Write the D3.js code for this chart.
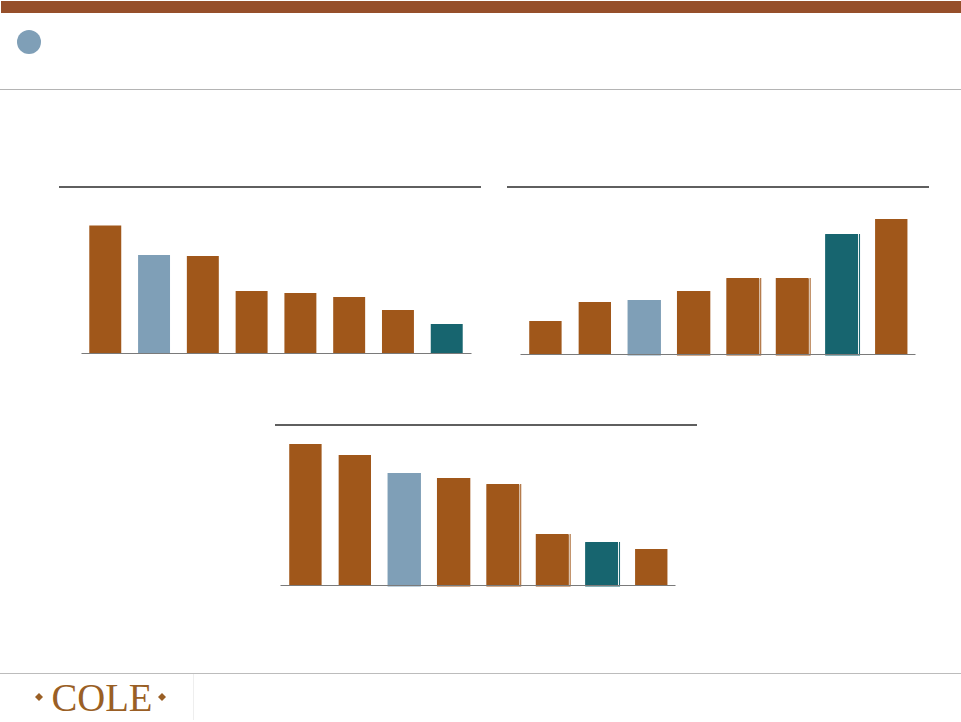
<!DOCTYPE html>
<html><head><meta charset="utf-8">
<script src="https://cdnjs.cloudflare.com/ajax/libs/d3/7.8.5/d3.min.js"></script>
<style>html,body{margin:0;padding:0;background:#fff}svg{display:block}</style>
</head><body><svg id="c" width="961" height="722"></svg>
<script>
// Values; the source shows no axis or labels, so units are relative.
const categories = ["1","2","3","4","5","6","7","8"];
const valuesA = [127.5, 98, 97, 62, 60, 56, 43, 29];
const kindsA  = ["peer","focus","peer","peer","peer","peer","peer","index"];
const valuesB = [33, 52, 54, 63, 75, 75, 119, 135];
const kindsB  = ["peer","peer","focus","peer","peer","peer","index","peer"];
const valuesC = [141, 130, 112, 107, 100, 50, 42, 36];
const kindsC  = ["peer","peer","focus","peer","peer","peer","index","peer"];
const ghostA = [0,0,0,0,0,0,0,0];
const ghostB = [0,0,1,1,2,2,2,0];
const ghostC = [0,0,1,1,2,2,2,0];

const colors = {peer:"#A0571A", focus:"#7F9FB7", index:"#17656F"};
const svg = d3.select("#c");
const unit = d3.scaleLinear().domain([0,100]).range([0,100]);

svg.append("rect").attr("x",1).attr("y",1).attr("width",960).attr("height",12).attr("fill","#964F2A");
svg.append("circle").attr("cx",29).attr("cy",42).attr("r",12).attr("fill","#7F9FB7");
svg.append("line").attr("x1",0).attr("x2",961).attr("y1",89.5).attr("y2",89.5).attr("stroke","#b4b4b4").attr("stroke-width",1.2);

function panel(vals, kinds, ghosts, x0, x1, base, rx0, rx1, ruleY, align){
  svg.append("line").attr("x1",rx0).attr("x2",rx1).attr("y1",ruleY).attr("y2",ruleY).attr("stroke","#5f5f5f").attr("stroke-width",2);
  const x = d3.scaleBand().domain(categories).range([x0,x1]).paddingInner(0.345).paddingOuter(0.17).align(align);
  const y = v => base - unit(v);
  const g = svg.append("g");
  const rows = categories.map((c,i)=>({c, v:vals[i], k:kinds[i], s:ghosts[i]}));
  // thin print offset visible behind some bars
  g.selectAll(".ghost").data(rows.filter(d=>d.s>0)).join("rect")
    .attr("x",d=>x(d.c)-0.5).attr("y",d=>y(d.v)-(d.s>1?1:0))
    .attr("width",d=>x.bandwidth()+(d.s>1?2.5:1)).attr("height",d=>unit(d.v)+(d.s>1?2.5:1.5))
    .attr("fill",d=>colors[d.k]);
  g.selectAll(".gap").data(rows.filter(d=>d.s>1)).join("rect")
    .attr("x",d=>x(d.c)+x.bandwidth()).attr("y",d=>y(d.v)-1)
    .attr("width",1).attr("height",d=>unit(d.v)+1).attr("fill","#fff");
  g.selectAll(".bar").data(rows).join("rect")
    .attr("x",d=>x(d.c)).attr("y",d=>y(d.v))
    .attr("width",x.bandwidth()).attr("height",d=>unit(d.v))
    .attr("fill",d=>colors[d.k]);
  const ax = svg.append("g").attr("transform",`translate(0,${base})`)
    .call(d3.axisBottom(x).tickSize(0).tickFormat(""));
  ax.select(".domain").attr("stroke","#7a7a7a").attr("stroke-width",1.2);
  ax.selectAll(".tick").remove();
}
panel(valuesA, kindsA, ghostA, 81, 471, 353, 59, 481, 187, 0.5);
panel(valuesB, kindsB, ghostB, 520, 915, 354, 507, 929, 187, 0.55);
panel(valuesC, kindsC, ghostC, 280, 675, 585, 275, 697, 425, 0.55);

// footer
svg.append("line").attr("x1",0).attr("x2",961).attr("y1",673.5).attr("y2",673.5).attr("stroke","#bcbcbc").attr("stroke-width",1.2);
svg.append("line").attr("x1",193.5).attr("x2",193.5).attr("y1",674).attr("y2",720).attr("stroke","#eeeeee");
svg.append("text").attr("x",51.5).attr("y",711).attr("font-family","Liberation Serif").attr("font-size",41)
  .attr("textLength",101).attr("lengthAdjust","spacingAndGlyphs").attr("fill","#9A5F25").text("COLE");
[39,162].forEach(cx=>svg.append("path").attr("d",`M${cx-4},697L${cx},693L${cx+4},697L${cx},701Z`).attr("fill","#9A5F25"));
</script></body></html>
